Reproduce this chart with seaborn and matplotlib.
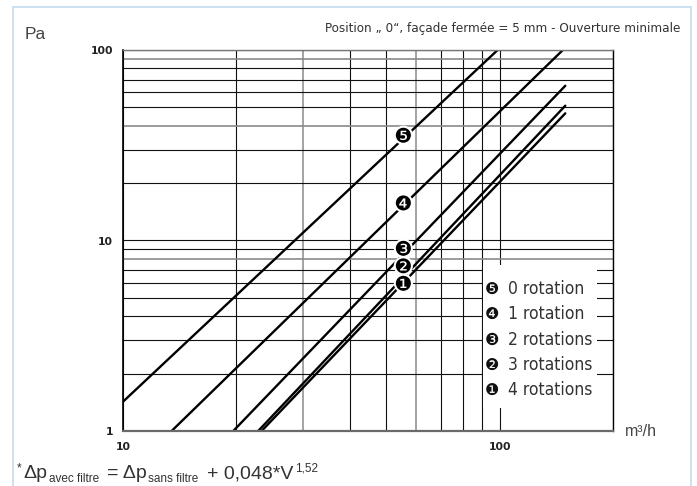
import matplotlib
matplotlib.use("Agg")
import matplotlib.pyplot as plt
import matplotlib.ticker as mticker
import matplotlib.patheffects as pe
from matplotlib import font_manager
from matplotlib.patches import Rectangle
import numpy as np
import pandas as pd
import seaborn as sns

# ---------------- data ----------------
series = ["0 rotation", "1 rotation", "2 rotations", "3 rotations", "4 rotations"]
symbols = ["❺", "❹", "❸", "❷", "❶"]
flow_start = [10.0, 13.46, 19.62, 22.85, 23.33]
pa_start = [1.425, 1.0, 1.0, 1.0, 1.0]
flow_end = [98.8, 147.2, 149.4, 149.4, 149.4]
pa_end = [100.0, 100.0, 64.9, 51.0, 46.5]
marker_flow = [55.5, 55.5, 55.5, 55.5, 55.5]
marker_pa = [34.9, 15.4, 8.9, 7.2, 5.83]

x_ticks = [10, 100]
x_tick_labels = ["10", "100"]
y_ticks = [1, 10, 100]
y_tick_labels = ["1", "10", "100"]

title = "Position \u201e 0\u201c, façade fermée = 5 mm - Ouverture minimale"
y_label = "Pa"
x_label = "m³/h"
formula_runs = [("*", "sup"), ("Δp", "main"), ("avec filtre", "sub"),
                (" = Δp", "main"), ("sans filtre", "sub"),
                (" + 0,048*V", "main"), ("1,52", "sup")]

# ---------------- fonts ----------------
sns.set_style("white")
plt.rcParams["font.family"] = ["Liberation Sans", "DejaVu Sans"]
names = {(f.name, f.stretch) for f in font_manager.fontManager.ttflist}
if any(n == "Liberation Sans Narrow" for n, _ in names):
    narrow = font_manager.FontProperties(family="Liberation Sans Narrow")
elif ("DejaVu Sans", "condensed") in names:
    narrow = font_manager.FontProperties(family="DejaVu Sans", stretch="condensed")
else:
    narrow = font_manager.FontProperties(family="Liberation Sans", stretch="condensed")

TXT = "#333333"

fig = plt.figure(figsize=(6.97, 4.86), dpi=100)
W, H = 697.0, 486.0
ax = fig.add_axes([123 / W, 1 - 431 / H, 490 / W, 381 / H])

rows = []
for s, x0, y0, x1, y1 in zip(series, flow_start, pa_start, flow_end, pa_end):
    rows.append({"series": s, "flow": x0, "pa": y0})
    rows.append({"series": s, "flow": x1, "pa": y1})
df = pd.DataFrame(rows)

sns.lineplot(data=df, x="flow", y="pa", hue="series", units="series",
             estimator=None, sort=False, palette=["black"] * len(series),
             linewidth=1.7, legend=False, ax=ax, zorder=2)

ax.set_xscale("log")
ax.set_yscale("log")
ax.set_xlim(10, 200)
ax.set_ylim(1, 100)
ax.set_xlabel("")
ax.set_ylabel("")

ax.xaxis.set_major_locator(mticker.FixedLocator(x_ticks))
ax.xaxis.set_major_formatter(mticker.FixedFormatter(x_tick_labels))
ax.yaxis.set_major_locator(mticker.FixedLocator(y_ticks))
ax.yaxis.set_major_formatter(mticker.FixedFormatter(y_tick_labels))
ax.xaxis.set_minor_locator(mticker.LogLocator(base=10, subs=np.arange(2, 10)))
ax.yaxis.set_minor_locator(mticker.LogLocator(base=10, subs=np.arange(2, 10)))
ax.xaxis.set_minor_formatter(mticker.NullFormatter())
ax.yaxis.set_minor_formatter(mticker.NullFormatter())

ax.set_axisbelow(True)
ax.grid(True, which="both", color="#111111", linewidth=0.8)
ax.tick_params(which="minor", length=0)
ax.tick_params(axis="x", which="major", direction="out", length=3, width=0.8,
               pad=5, labelsize=7.8, colors="#222222")
ax.tick_params(axis="y", which="major", direction="out", length=5, width=0.8,
               pad=2, labelsize=7.8, colors="#222222")
for lab in ax.get_xticklabels() + ax.get_yticklabels():
    lab.set_fontfamily("DejaVu Sans")
    lab.set_fontweight("bold")

# a few lighter grid lines like the scanned original
for t in ax.yaxis.get_minor_ticks():
    if np.isclose(t.get_loc(), [90, 40, 8]).any():
        t.gridline.set_color("#8a8a8a")
        t.gridline.set_linewidth(1.2)
for t in ax.xaxis.get_minor_ticks():
    if np.isclose(t.get_loc(), [30, 60]).any():
        t.gridline.set_color("#8a8a8a")
        t.gridline.set_linewidth(1.1)

for side, col, lw in [("left", "#000000", 1.2), ("bottom", "#6a6a6a", 1.6),
                      ("top", "#777777", 1.0), ("right", "#000000", 1.0)]:
    ax.spines[side].set_visible(True)
    ax.spines[side].set_color(col)
    ax.spines[side].set_linewidth(lw)

# markers on the lines
for sym, fx, py in zip(symbols, marker_flow, marker_pa):
    ax.text(fx, py, sym, fontsize=14.5, family="DejaVu Sans", ha="center",
            va="center", color="black", zorder=4,
            path_effects=[pe.withStroke(linewidth=3, foreground="white")])

# legend box (white panel over the grid)
ax.add_patch(Rectangle((0.7347, 0.0604), 0.2326, 0.3753, transform=ax.transAxes,
                       facecolor="white", edgecolor="none", zorder=1.5))
row_y = [0.3727, 0.307, 0.239, 0.173, 0.1076]
for sym, s, yy in zip(symbols, series, row_y):
    ax.text(0.753, yy, sym, fontsize=11.5, family="DejaVu Sans", ha="center",
            va="center", color="#111111", transform=ax.transAxes, zorder=3)
    ax.text(0.786, yy, s, fontproperties=narrow, fontsize=12.5, ha="left",
            va="center", color=TXT, transform=ax.transAxes, zorder=3)

# texts around the plot
fig.text(680 / W, 1 - 28.5 / H, title, fontproperties=narrow, fontsize=9.6,
         ha="right", va="center", color=TXT)
fig.text(25 / W, 1 - 34.5 / H, y_label, fontsize=12.5, ha="left", va="center",
         color="#444444")
fig.text(625 / W, 1 - 432 / H, x_label, fontsize=11.5, ha="left", va="center",
         color="#444444")

# formula, laid out run by run
renderer = fig.canvas.get_renderer()
x = 17 / W
base = 1 - 478 / H
sizes = {"main": 14, "sub": 8.5, "sup": 8.5}
dys = {"main": 0, "sub": -4 / H, "sup": 7 / H}
for txt, kind in formula_runs:
    body = txt.strip(" ")
    if txt.startswith(" "):
        x += 0.35 * sizes[kind] * 100 / 72 / W
    t = fig.text(x, base + dys[kind], body, fontsize=sizes[kind], ha="left",
                 va="baseline", color=TXT)
    bb = t.get_window_extent(renderer)
    x += (bb.width + 1.5) / W

# light blue frame around the figure
fig.patches.append(Rectangle((13 / W, -0.01), (691 - 13) / W, 1.01 - 7 / H,
                             transform=fig.transFigure, fill=False,
                             edgecolor="#c9def0", linewidth=1.3))

fig.savefig("out.png", dpi=100)
